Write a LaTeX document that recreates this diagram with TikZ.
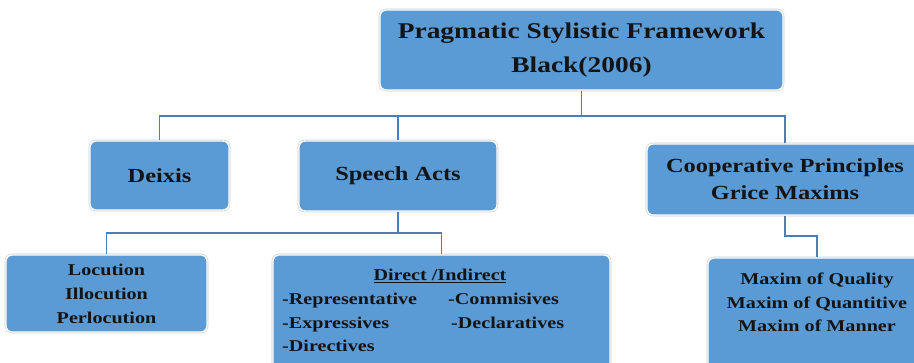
\documentclass[tikz,border=0pt]{standalone}
\usepackage{fontspec}
\setmainfont{Liberation Serif}[FakeStretch=1.22]
\definecolor{azul}{HTML}{5B9BD5}
\definecolor{linha}{HTML}{4A7EBB}
\definecolor{texto}{HTML}{141414}
\begin{document}
\begin{tikzpicture}[x = 1pt, y = -1pt,
  bloco/.style = {fill=azul, draw=white, line width=1.4pt, rounded corners=6pt,
    preaction={draw=black!20, line width=2.6pt}, text=texto, align=center,
    font=\bfseries, inner sep=0pt},
  ligacao/.style = {draw=linha, line width=1.8pt},
  nivelA/.style = {font=\fontsize{22.5}{34}\selectfont\bfseries},
  nivelB/.style = {font=\fontsize{20}{27}\selectfont\bfseries},
  nivelC/.style = {font=\fontsize{16.5}{24}\selectfont\bfseries, text=texto, inner sep=0pt},]

\useasboundingbox (0,0) rectangle (914,363);
\clip (0,0) rectangle (914,363);

\node[bloco, nivelA, minimum width=403pt, minimum height=80pt] (F) at (581.5,50) {Pragmatic Stylistic Framework\\Black(2006)};
\node[bloco, nivelB, minimum width=139pt, minimum height=69pt] (D) at (159.5,175.5) {Deixis};
\node[bloco, nivelB, minimum width=198pt, minimum height=70pt] (S) at (398,176) {Speech Acts};
\node[bloco, nivelB, minimum width=276pt, minimum height=71pt] (C) at (785,179.5) {Cooperative Principles\\Grice Maxims};
\node[bloco, nivelC, minimum width=201pt, minimum height=77pt] (L) at (106.5,293.5) {Locution\\Illocution\\Perlocution};
\node[bloco, minimum width=337pt, minimum height=118pt] (I) at (441.5,314) {};
\node[bloco, minimum width=218pt, minimum height=116pt] (M) at (817,316) {};

\node[nivelC, anchor=base] (I0) at (440,281) {\underline{Direct /Indirect}};
\node[nivelC, anchor=base west] (I1) at (282,305) {-Representative};
\node[nivelC, anchor=base west] (I2) at (448,305) {-Commisives};
\node[nivelC, anchor=base west] (I3) at (282,329) {-Expressives};
\node[nivelC, anchor=base west] (I4) at (451,329) {-Declaratives};
\node[nivelC, anchor=base west] (I5) at (282,352) {-Directives};

\node[nivelC, anchor=base] (M1) at (817,285) {Maxim of Quality};
\node[nivelC, anchor=base] (M2) at (817,309) {Maxim of Quantitive};
\node[nivelC, anchor=base] (M3) at (817,332) {Maxim of Manner};

\coordinate (J1) at (582,116);
\coordinate (J2) at (398,233);
\coordinate (J3) at (785,236);

\draw[ligacao] (F.south) |- (J1) -| (D.north);
\draw[ligacao] (J1) -| (S.north);
\draw[ligacao] (J1) -| (C.north);
\draw[ligacao] (S.south) -- (J2) -| (L.north);
\draw[ligacao] (J2) -| (I.north);
\draw[ligacao] (C.south) -- (J3) -| (M.north);

\end{tikzpicture}
\end{document}
